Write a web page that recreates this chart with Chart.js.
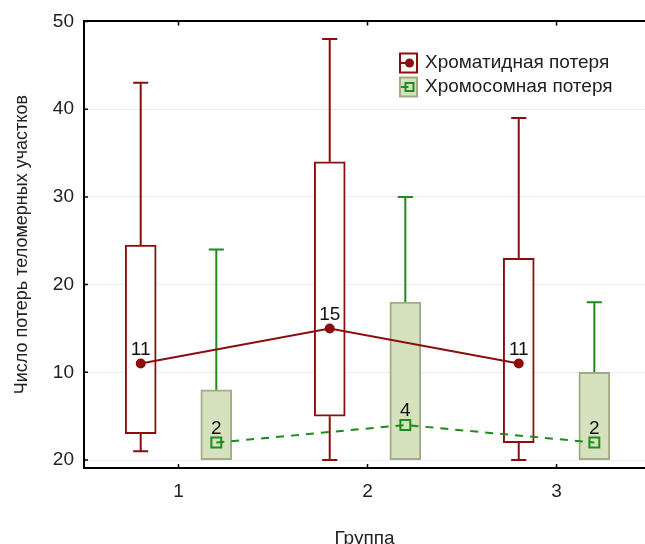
<!DOCTYPE html>
<html>
<head>
<meta charset="utf-8">
<script src="https://cdn.jsdelivr.net/npm/chart.js@4.4.1/dist/chart.umd.min.js"></script>
<style>
  html, body { margin: 0; padding: 0; background: #fff; overflow: hidden; width: 645px; height: 544px; }
  #boxChart { display: block; }
</style>
</head>
<body>
<canvas id="boxChart" width="654" height="544"></canvas>
<script>
// groups on the x axis
const groups = [1, 2, 3];
const xLabels = ["1", "2", "3"];
const yTickValues = [0, 10, 20, 30, 40, 50];
const yTickLabels = ["20", "10", "20", "30", "40", "50"];

// chromatid loss (red)
const chromatidMin = [1, 0, 0];
const chromatidQ1 = [3, 5, 2];
const chromatidMedian = [11, 15, 11];
const chromatidQ3 = [24.5, 34, 23];
const chromatidMax = [43, 48, 39];

// chromosome loss (green)
const chromosomeMin = [0, 0, 0];
const chromosomeQ1 = [0, 0, 0];
const chromosomeMedian = [2, 4, 2];
const chromosomeQ3 = [8, 18, 10];
const chromosomeMax = [24, 30, 18];

const seriesNames = ["Хроматидная потеря", "Хромосомная потеря"];

const RED = "#8b0e0e";
const GREEN = "#1c8c1c";
const BOX_FILL = "#d6e2bd";
const BOX_EDGE = "#a2ab86";
const SHIFT = 0.2;   // box offset from group centre
const CAP = 0.04;    // half width of whisker caps
const FONT = "'Liberation Sans', Arial, sans-serif";

Chart.defaults.font.family = FONT;
Chart.defaults.font.size = 19;
Chart.defaults.color = "#222";

function whiskerPoints(shift, mins, q1s, q3s, maxs) {
  const pts = [];
  groups.forEach((g, i) => {
    const x = g + shift;
    pts.push({ x: x, y: q3s[i] }, { x: x, y: maxs[i] }, { x: x, y: null });
    pts.push({ x: x - CAP, y: maxs[i] }, { x: x + CAP, y: maxs[i] }, { x: x, y: null });
    if (mins[i] < q1s[i]) {
      pts.push({ x: x, y: q1s[i] }, { x: x, y: mins[i] }, { x: x, y: null });
      pts.push({ x: x - CAP, y: mins[i] }, { x: x + CAP, y: mins[i] }, { x: x, y: null });
    }
  });
  return pts;
}

function boxPoints(shift, q1s, q3s) {
  return groups.map((g, i) => ({ x: g + shift, y: [q1s[i], q3s[i]] }));
}

function medianPoints(shift, medians) {
  return groups.map((g, i) => ({ x: g + shift, y: medians[i] }));
}

// numbers above the median markers
const medianLabels = {
  id: "medianLabels",
  afterDatasetsDraw(chart) {
    const ctx = chart.ctx;
    ctx.save();
    ctx.font = "19px " + FONT;
    ctx.fillStyle = "#111";
    ctx.textAlign = "center";
    ctx.textBaseline = "middle";
    chart.data.datasets.forEach((ds, di) => {
      if (!ds.isMedian) return;
      chart.getDatasetMeta(di).data.forEach((pt, j) => {
        ctx.fillText(String(ds.data[j].y), pt.x, pt.y - 14);
      });
    });
    ctx.restore();
  }
};

// small inward tick marks on the frame
const innerTicks = {
  id: "innerTicks",
  afterDraw(chart) {
    const { ctx, chartArea } = chart;
    const xs = chart.scales.x, ys = chart.scales.y;
    ctx.save();
    ctx.strokeStyle = "#000";
    ctx.lineWidth = 1.5;
    ctx.beginPath();
    yTickValues.forEach(v => {
      const py = ys.getPixelForValue(v);
      ctx.moveTo(chartArea.left, py);
      ctx.lineTo(chartArea.left + 4, py);
    });
    groups.forEach(g => {
      const px = xs.getPixelForValue(g);
      ctx.moveTo(px, chartArea.bottom);
      ctx.lineTo(px, chartArea.bottom - 4);
      ctx.moveTo(px, chartArea.top);
      ctx.lineTo(px, chartArea.top + 4);
    });
    ctx.stroke();
    ctx.restore();
  }
};

// legend drawn inside the plot, top right
const boxLegend = {
  id: "boxLegend",
  afterDraw(chart) {
    const ctx = chart.ctx;
    const x0 = 400, w = 17, h = 19;
    const rows = [63, 87];
    ctx.save();
    rows.forEach((cy, k) => {
      const top = cy - h / 2;
      ctx.lineWidth = 2;
      if (k === 0) {
        ctx.fillStyle = "#fff";
        ctx.strokeStyle = RED;
      } else {
        ctx.fillStyle = BOX_FILL;
        ctx.strokeStyle = BOX_EDGE;
      }
      ctx.fillRect(x0, top, w, h);
      ctx.strokeRect(x0, top, w, h);
      const c = k === 0 ? RED : GREEN;
      ctx.strokeStyle = c;
      ctx.beginPath();
      ctx.moveTo(x0 + 1, cy);
      ctx.lineTo(x0 + w / 2, cy);
      ctx.stroke();
      if (k === 0) {
        ctx.fillStyle = RED;
        ctx.beginPath();
        ctx.arc(x0 + w / 2 + 1, cy, 4.5, 0, Math.PI * 2);
        ctx.fill();
      } else {
        ctx.strokeRect(x0 + w / 2 - 3, cy - 4, 8, 8);
      }
      ctx.fillStyle = "#222";
      ctx.font = "19px " + FONT;
      ctx.textAlign = "left";
      ctx.textBaseline = "middle";
      ctx.fillText(seriesNames[k], 425, cy);
    });
    ctx.restore();
  }
};

const ctx = document.getElementById("boxChart").getContext("2d");

new Chart(ctx, {
  type: "bar",
  data: {
    datasets: [
      {
        type: "line",
        label: "chromatid whiskers",
        data: whiskerPoints(-SHIFT, chromatidMin, chromatidQ1, chromatidQ3, chromatidMax),
        borderColor: RED,
        borderWidth: 2,
        pointRadius: 0,
        spanGaps: false,
        order: 6
      },
      {
        type: "line",
        label: "chromosome whiskers",
        data: whiskerPoints(SHIFT, chromosomeMin, chromosomeQ1, chromosomeQ3, chromosomeMax),
        borderColor: GREEN,
        borderWidth: 2,
        pointRadius: 0,
        spanGaps: false,
        order: 5
      },
      {
        label: "chromatid box",
        data: boxPoints(-SHIFT, chromatidQ1, chromatidQ3),
        backgroundColor: "#fff",
        borderColor: RED,
        borderWidth: 2,
        borderSkipped: false,
        grouped: false,
        barThickness: 31,
        order: 4
      },
      {
        label: "chromosome box",
        data: boxPoints(SHIFT, chromosomeQ1, chromosomeQ3),
        backgroundColor: BOX_FILL,
        borderColor: BOX_EDGE,
        borderWidth: 2,
        borderSkipped: false,
        grouped: false,
        barThickness: 31,
        order: 3
      },
      {
        type: "line",
        label: seriesNames[0],
        isMedian: true,
        data: medianPoints(-SHIFT, chromatidMedian),
        borderColor: RED,
        borderWidth: 2,
        pointRadius: 5,
        pointBorderWidth: 0,
        pointBackgroundColor: RED,
        tension: 0,
        order: 2
      },
      {
        type: "line",
        label: seriesNames[1],
        isMedian: true,
        data: medianPoints(SHIFT, chromosomeMedian),
        borderColor: GREEN,
        borderWidth: 2,
        borderDash: [8, 7],
        pointStyle: "rect",
        pointRadius: 7,
        pointBorderWidth: 2,
        pointBorderColor: GREEN,
        pointBackgroundColor: "rgba(0,0,0,0)",
        tension: 0,
        order: 1
      }
    ]
  },
  options: {
    responsive: false,
    animation: false,
    devicePixelRatio: 1,
    layout: { padding: { top: 21, right: 0, bottom: 0, left: 0 } },
    plugins: {
      legend: { display: false },
      tooltip: { enabled: false }
    },
    scales: {
      x: {
        type: "linear",
        position: "bottom",
        offset: false,
        min: 0.5,
        max: 3.468,
        afterBuildTicks: (scale) => { scale.ticks = groups.map(v => ({ value: v })); },
        afterFit: (scale) => { scale.height = 76; },
        ticks: {
          padding: 12,
          callback: (v) => xLabels[groups.indexOf(v)]
        },
        grid: { display: false, drawTicks: false },
        border: { display: true, color: "#000", width: 2 },
        title: { display: true, text: "Группа", padding: { top: 0, bottom: -6 } }
      },
      xTop: {
        type: "linear",
        position: "top",
        offset: false,
        min: 0.5,
        max: 3.468,
        ticks: { display: false },
        grid: { display: false, drawTicks: false },
        border: { display: true, color: "#000", width: 2 },
        afterFit: (scale) => { scale.height = 0; }
      },
      y: {
        type: "linear",
        min: -0.9,
        max: 50,
        afterBuildTicks: (scale) => { scale.ticks = yTickValues.map(v => ({ value: v })); },
        afterFit: (scale) => { scale.width = 84; },
        ticks: {
          padding: 10,
          callback: (v) => yTickLabels[yTickValues.indexOf(v)]
        },
        grid: { color: "#ececec", lineWidth: 1, drawTicks: false },
        border: { display: true, color: "#000", width: 2 },
        title: { display: true, text: "Число потерь теломерных участков", font: { size: 18 }, padding: { top: 11, bottom: 0 } }
      }
    }
  },
  plugins: [medianLabels, innerTicks, boxLegend]
});
</script>
</body>
</html>
